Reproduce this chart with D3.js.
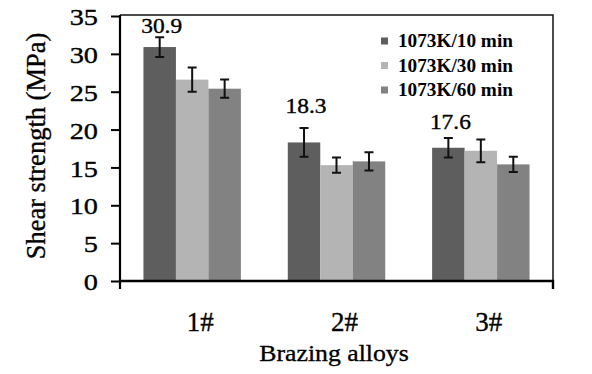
<!DOCTYPE html>
<html>
<head>
<meta charset="utf-8">
<script src="https://cdn.jsdelivr.net/npm/d3@7"></script>
<style>
  body { margin: 0; background: #fff; }
  svg { display: block; }
  text { font-family: "Liberation Serif", "Times New Roman", serif; fill: #000; stroke: #000; stroke-width: 0.35px; }
</style>
</head>
<body>
<script>
// Shear strength of brazed joints, three alloys x three brazing times

// Data
var alloys = ["1#", "2#", "3#"];
var series = ["1073K/10 min", "1073K/30 min", "1073K/60 min"];
var strength10 = [30.9, 18.3, 17.6];
var strength30 = [26.6, 15.3, 17.2];
var strength60 = [25.4, 15.8, 15.4];
var error10 = [1.3, 1.9, 1.3];
var error30 = [1.6, 1.0, 1.5];
var error60 = [1.2, 1.2, 1.0];
var yTicks = [0, 5, 10, 15, 20, 25, 30, 35];

var colors = ["#5e5e5e", "#b4b4b4", "#828282"];
// extra lift of the value labels above the error bars
var labelGap = [4, 15, 9];

var w = 592, h = 374;
var margin = {left: 120, right: 39, top: 16, bottom: 93};

// the source picture is a little stretched sideways
function stretch(sel, x, yy, s) {
    sel.attr("x", 0).attr("y", 0)
        .attr("transform", "translate(" + x + "," + yy + ") scale(" + s + ",1)");
}

var rows = [];
alloys.forEach(function(a, i) {
    rows.push({alloy: a, key: series[0], value: strength10[i], err: error10[i]});
    rows.push({alloy: a, key: series[1], value: strength30[i], err: error30[i]});
    rows.push({alloy: a, key: series[2], value: strength60[i], err: error60[i]});
});

var svg = d3.select("body").append("svg")
    .attr("width", w)
    .attr("height", h);

var x0 = d3.scaleBand()
    .domain(alloys)
    .range([margin.left, w - margin.right])
    .paddingInner(0.325)
    .paddingOuter(0.1625);

var x1 = d3.scaleBand()
    .domain(series)
    .range([0, x0.bandwidth()]);

var y = d3.scaleLinear()
    .domain([0, 35])
    .range([h - margin.bottom, margin.top]);

var color = d3.scaleOrdinal()
    .domain(series)
    .range(colors);

// Frame (top and right)
svg.append("path")
    .attr("d", "M" + margin.left + "," + (margin.top - 1) +
        "H" + (w - margin.right) + "V" + y(0))
    .attr("fill", "none")
    .attr("stroke", "#111")
    .attr("stroke-width", 1.5);

// Bars
svg.append("g")
    .selectAll("rect")
    .data(rows)
    .enter()
    .append("rect")
    .attr("x", function(d) { return x0(d.alloy) + x1(d.key); })
    .attr("y", function(d) { return y(d.value); })
    .attr("width", x1.bandwidth())
    .attr("height", function(d) { return y(0) - y(d.value); })
    .attr("fill", function(d) { return color(d.key); });

// Error bars
var errs = svg.append("g")
    .attr("stroke", "#111")
    .attr("stroke-width", 2);

rows.forEach(function(d) {
    var cx = x0(d.alloy) + x1(d.key) + x1.bandwidth() / 2;
    var top = y(d.value + d.err), bot = y(d.value - d.err);
    errs.append("path")
        .attr("d", "M" + cx + "," + top + "V" + bot +
            "M" + (cx - 4.5) + "," + top + "h9" +
            "M" + (cx - 4.5) + "," + bot + "h9");
});

// Value labels over the 10 min bars
svg.append("g")
    .selectAll("text")
    .data(alloys)
    .enter()
    .append("text")
    .attr("text-anchor", "middle")
    .style("font-size", "20px")
    .text(function(d, i) { return strength10[i].toFixed(1); })
    .each(function(d, i) {
        stretch(d3.select(this),
            x0(d) + x1(series[0]) + x1.bandwidth() / 2 + 2,
            y(strength10[i] + error10[i]) - labelGap[i], 1.17);
    });

// Y axis
var yAxis = svg.append("g")
    .attr("transform", "translate(" + margin.left + ",0)")
    .call(d3.axisLeft(y).tickValues(yTicks).tickSize(9).tickPadding(13));
yAxis.select(".domain")
    .attr("d", "M0," + (margin.top - 1) + "V" + (y(0) + 8))
    .attr("stroke-width", 2.2);
yAxis.selectAll(".tick line").attr("stroke-width", 2);
yAxis.selectAll("text")
    .attr("dy", "0.36em")
    .style("font-family", "Liberation Serif")
    .style("font-size", "24px")
    .each(function() { stretch(d3.select(this), -22, 0, 1.18); });

// X axis: baseline with end ticks only
var xAxis = svg.append("g")
    .attr("transform", "translate(0," + y(0) + ")");
xAxis.append("path")
    .attr("d", "M" + margin.left + ",0H" + (w - margin.right) + "V8")
    .attr("fill", "none")
    .attr("stroke", "#000")
    .attr("stroke-width", 2.4);
xAxis.selectAll("text")
    .data(alloys)
    .enter()
    .append("text")
    .attr("x", function(d) { return x0(d) + x0.bandwidth() / 2 + 8; })
    .attr("y", 50)
    .attr("text-anchor", "middle")
    .style("font-size", "27px")
    .text(function(d) { return d; });

// Axis titles
svg.append("text")
    .attr("text-anchor", "middle")
    .style("font-size", "23px")
    .text("Brazing alloys")
    .call(stretch, 334, 361, 1.12);

svg.append("text")
    .attr("transform", "translate(45," + 146 + ") rotate(-90)")
    .attr("text-anchor", "middle")
    .style("font-size", "26.5px")
    .text("Shear strength (MPa)");

// Legend
var legend = svg.append("g")
    .attr("transform", "translate(381,41)");
var item = legend.selectAll("g")
    .data(series)
    .enter()
    .append("g")
    .attr("transform", function(d, i) { return "translate(0," + (i * 24.5) + ")"; });
item.append("rect")
    .attr("x", 0)
    .attr("y", -3.5)
    .attr("width", 7)
    .attr("height", 7)
    .attr("fill", function(d) { return color(d); })
    .attr("stroke", "none");
item.append("text")
    .attr("dy", "0.34em")
    .style("font-size", "18px")
    .style("font-weight", "bold")
    .style("stroke-width", "0px")
    .text(function(d) { return d; })
    .each(function() { stretch(d3.select(this), 17, 0, 1.07); });
</script>
</body>
</html>
